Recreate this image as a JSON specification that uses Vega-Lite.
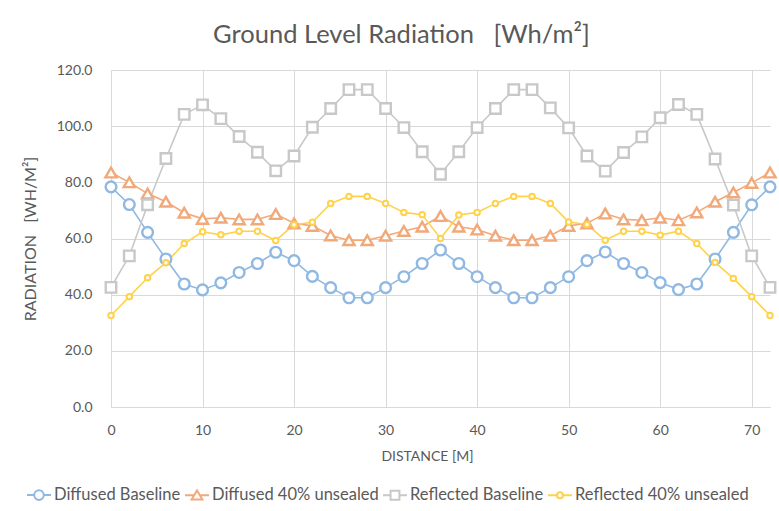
{
  "$schema": "https://vega.github.io/schema/vega-lite/v6.json",
  "autosize": {"type": "none"},
  "padding": {"left": 111, "top": 70, "right": 9, "bottom": 104},
  "width": 659,
  "height": 337,
  "background": "white",
  "config": {
    "font": "Lato",
    "view": {"stroke": null},
    "axis": {"labelFont": "Lato", "titleFont": "Lato", "labelColor": "#595959", "titleColor": "#595959", "titleFontWeight": "normal", "gridColor": "#d9d9d9", "domainColor": "#d9d9d9", "ticks": false}
  },
  "title": {"text": "Ground Level Radiation\u00a0\u00a0\u00a0[Wh/m²]", "font": "Lato", "fontSize": 25.5, "fontWeight": "normal", "color": "#595959", "anchor": "middle", "dx": -39, "offset": 15},
  "data": {"values": [
    {"d":0,"s":"Diffused Baseline","r":78.4},{"d":2,"s":"Diffused Baseline","r":72.1},{"d":4,"s":"Diffused Baseline","r":62.2},{"d":6,"s":"Diffused Baseline","r":52.7},{"d":8,"s":"Diffused Baseline","r":43.8},{"d":10,"s":"Diffused Baseline","r":41.7},{"d":12,"s":"Diffused Baseline","r":44.2},{"d":14,"s":"Diffused Baseline","r":47.9},{"d":16,"s":"Diffused Baseline","r":51.1},{"d":18,"s":"Diffused Baseline","r":55.1},{"d":20,"s":"Diffused Baseline","r":52.1},{"d":22,"s":"Diffused Baseline","r":46.5},{"d":24,"s":"Diffused Baseline","r":42.5},{"d":26,"s":"Diffused Baseline","r":38.9},{"d":28,"s":"Diffused Baseline","r":38.9},{"d":30,"s":"Diffused Baseline","r":42.5},{"d":32,"s":"Diffused Baseline","r":46.4},{"d":34,"s":"Diffused Baseline","r":51.1},{"d":36,"s":"Diffused Baseline","r":55.9},{"d":38,"s":"Diffused Baseline","r":51.1},{"d":40,"s":"Diffused Baseline","r":46.4},{"d":42,"s":"Diffused Baseline","r":42.5},{"d":44,"s":"Diffused Baseline","r":38.9},{"d":46,"s":"Diffused Baseline","r":38.9},{"d":48,"s":"Diffused Baseline","r":42.5},{"d":50,"s":"Diffused Baseline","r":46.4},{"d":52,"s":"Diffused Baseline","r":52.1},{"d":54,"s":"Diffused Baseline","r":55.2},{"d":56,"s":"Diffused Baseline","r":51.1},{"d":58,"s":"Diffused Baseline","r":47.9},{"d":60,"s":"Diffused Baseline","r":44.3},{"d":62,"s":"Diffused Baseline","r":41.8},{"d":64,"s":"Diffused Baseline","r":43.8},{"d":66,"s":"Diffused Baseline","r":52.7},{"d":68,"s":"Diffused Baseline","r":62.2},{"d":70,"s":"Diffused Baseline","r":72},{"d":72,"s":"Diffused Baseline","r":78.4},
    {"d":0,"s":"Diffused 40% unsealed","r":83.5},{"d":2,"s":"Diffused 40% unsealed","r":80},{"d":4,"s":"Diffused 40% unsealed","r":76},{"d":6,"s":"Diffused 40% unsealed","r":73.1},{"d":8,"s":"Diffused 40% unsealed","r":69.2},{"d":10,"s":"Diffused 40% unsealed","r":67},{"d":12,"s":"Diffused 40% unsealed","r":67.4},{"d":14,"s":"Diffused 40% unsealed","r":66.8},{"d":16,"s":"Diffused 40% unsealed","r":66.8},{"d":18,"s":"Diffused 40% unsealed","r":68.7},{"d":20,"s":"Diffused 40% unsealed","r":65.4},{"d":22,"s":"Diffused 40% unsealed","r":64.5},{"d":24,"s":"Diffused 40% unsealed","r":61.1},{"d":26,"s":"Diffused 40% unsealed","r":59.4},{"d":28,"s":"Diffused 40% unsealed","r":59.4},{"d":30,"s":"Diffused 40% unsealed","r":61},{"d":32,"s":"Diffused 40% unsealed","r":62.7},{"d":34,"s":"Diffused 40% unsealed","r":64.2},{"d":36,"s":"Diffused 40% unsealed","r":68},{"d":38,"s":"Diffused 40% unsealed","r":64.2},{"d":40,"s":"Diffused 40% unsealed","r":63.2},{"d":42,"s":"Diffused 40% unsealed","r":61},{"d":44,"s":"Diffused 40% unsealed","r":59.4},{"d":46,"s":"Diffused 40% unsealed","r":59.4},{"d":48,"s":"Diffused 40% unsealed","r":61},{"d":50,"s":"Diffused 40% unsealed","r":64.5},{"d":52,"s":"Diffused 40% unsealed","r":65.4},{"d":54,"s":"Diffused 40% unsealed","r":68.9},{"d":56,"s":"Diffused 40% unsealed","r":66.8},{"d":58,"s":"Diffused 40% unsealed","r":66.5},{"d":60,"s":"Diffused 40% unsealed","r":67.4},{"d":62,"s":"Diffused 40% unsealed","r":66.5},{"d":64,"s":"Diffused 40% unsealed","r":69.3},{"d":66,"s":"Diffused 40% unsealed","r":73.1},{"d":68,"s":"Diffused 40% unsealed","r":76.4},{"d":70,"s":"Diffused 40% unsealed","r":79.8},{"d":72,"s":"Diffused 40% unsealed","r":83.5},
    {"d":0,"s":"Reflected Baseline","r":42.6},{"d":2,"s":"Reflected Baseline","r":53.8},{"d":4,"s":"Reflected Baseline","r":72},{"d":6,"s":"Reflected Baseline","r":88.5},{"d":8,"s":"Reflected Baseline","r":104.2},{"d":10,"s":"Reflected Baseline","r":107.6},{"d":12,"s":"Reflected Baseline","r":102.7},{"d":14,"s":"Reflected Baseline","r":96.3},{"d":16,"s":"Reflected Baseline","r":90.7},{"d":18,"s":"Reflected Baseline","r":84.1},{"d":20,"s":"Reflected Baseline","r":89.4},{"d":22,"s":"Reflected Baseline","r":99.6},{"d":24,"s":"Reflected Baseline","r":106.3},{"d":26,"s":"Reflected Baseline","r":113},{"d":28,"s":"Reflected Baseline","r":113},{"d":30,"s":"Reflected Baseline","r":106.3},{"d":32,"s":"Reflected Baseline","r":99.5},{"d":34,"s":"Reflected Baseline","r":90.9},{"d":36,"s":"Reflected Baseline","r":82.9},{"d":38,"s":"Reflected Baseline","r":90.9},{"d":40,"s":"Reflected Baseline","r":99.5},{"d":42,"s":"Reflected Baseline","r":106.3},{"d":44,"s":"Reflected Baseline","r":113},{"d":46,"s":"Reflected Baseline","r":113},{"d":48,"s":"Reflected Baseline","r":106.5},{"d":50,"s":"Reflected Baseline","r":99.4},{"d":52,"s":"Reflected Baseline","r":89.4},{"d":54,"s":"Reflected Baseline","r":84},{"d":56,"s":"Reflected Baseline","r":90.6},{"d":58,"s":"Reflected Baseline","r":96.2},{"d":60,"s":"Reflected Baseline","r":103},{"d":62,"s":"Reflected Baseline","r":107.7},{"d":64,"s":"Reflected Baseline","r":104.2},{"d":66,"s":"Reflected Baseline","r":88.3},{"d":68,"s":"Reflected Baseline","r":71.9},{"d":70,"s":"Reflected Baseline","r":53.8},{"d":72,"s":"Reflected Baseline","r":42.6},
    {"d":0,"s":"Reflected 40% unsealed","r":32.6},{"d":2,"s":"Reflected 40% unsealed","r":39.3},{"d":4,"s":"Reflected 40% unsealed","r":46},{"d":6,"s":"Reflected 40% unsealed","r":51.4},{"d":8,"s":"Reflected 40% unsealed","r":58.2},{"d":10,"s":"Reflected 40% unsealed","r":62.4},{"d":12,"s":"Reflected 40% unsealed","r":61.3},{"d":14,"s":"Reflected 40% unsealed","r":62.6},{"d":16,"s":"Reflected 40% unsealed","r":62.6},{"d":18,"s":"Reflected 40% unsealed","r":59.3},{"d":20,"s":"Reflected 40% unsealed","r":64.9},{"d":22,"s":"Reflected 40% unsealed","r":65.8},{"d":24,"s":"Reflected 40% unsealed","r":72.5},{"d":26,"s":"Reflected 40% unsealed","r":75},{"d":28,"s":"Reflected 40% unsealed","r":75},{"d":30,"s":"Reflected 40% unsealed","r":72.5},{"d":32,"s":"Reflected 40% unsealed","r":69.3},{"d":34,"s":"Reflected 40% unsealed","r":68.5},{"d":36,"s":"Reflected 40% unsealed","r":60},{"d":38,"s":"Reflected 40% unsealed","r":68.4},{"d":40,"s":"Reflected 40% unsealed","r":69.3},{"d":42,"s":"Reflected 40% unsealed","r":72.5},{"d":44,"s":"Reflected 40% unsealed","r":75},{"d":46,"s":"Reflected 40% unsealed","r":75},{"d":48,"s":"Reflected 40% unsealed","r":72.5},{"d":50,"s":"Reflected 40% unsealed","r":65.9},{"d":52,"s":"Reflected 40% unsealed","r":65},{"d":54,"s":"Reflected 40% unsealed","r":59.4},{"d":56,"s":"Reflected 40% unsealed","r":62.6},{"d":58,"s":"Reflected 40% unsealed","r":62.6},{"d":60,"s":"Reflected 40% unsealed","r":61.2},{"d":62,"s":"Reflected 40% unsealed","r":62.6},{"d":64,"s":"Reflected 40% unsealed","r":58.2},{"d":66,"s":"Reflected 40% unsealed","r":51.5},{"d":68,"s":"Reflected 40% unsealed","r":45.8},{"d":70,"s":"Reflected 40% unsealed","r":39.3},{"d":72,"s":"Reflected 40% unsealed","r":32.6}
  ]},
  "encoding": {
    "x": {"field": "d", "type": "quantitative", "scale": {"domain": [0, 72], "nice": false}, "axis": {"title": "DISTANCE [M]", "values": [0,10,20,30,40,50,60,70], "labelFontSize": 14, "labelPadding": 16, "labelFlush": false, "titleFontSize": 14, "titlePadding": 12, "titleX": 316, "grid": true, "domain": true}},
    "y": {"field": "r", "type": "quantitative", "scale": {"domain": [0, 120], "nice": false}, "axis": {"title": "RADIATION\u00a0\u00a0\u00a0[WH/M²]", "values": [0,20,40,60,80,100,120], "format": ".1f", "labelFontSize": 14, "labelPadding": 19, "titleFontSize": 16, "titlePadding": 18, "grid": true, "domain": false}}
  },
  "layer": [
    {"mark": {"type": "line", "strokeWidth": 1.6},
     "encoding": {
       "color": {"field": "s", "type": "nominal", "scale": {"domain": ["Diffused Baseline", "Diffused 40% unsealed", "Reflected Baseline", "Reflected 40% unsealed"], "range": ["#8fb9e3", "#f2a97a", "#c8c8c8", "#ffd24a"]},
        "legend": {"title": null, "orient": "none", "legendX": -85, "legendY": 412, "direction": "horizontal", "columns": 4, "columnPadding": 0, "labelFont": "Lato", "labelFontSize": 16.5, "labelLimit": 400, "labelColor": "#595959", "labelOffset": 2, "symbolSize": 576, "symbolStrokeWidth": 2,
          "encode": {"symbols": {"update": {
            "shape": {"signal": "datum.value === 'Diffused Baseline' ? 'M-1,0L-0.4,0M0.4,0L1,0M-0.4,0A0.4,0.4,0,1,1,0.4,0A0.4,0.4,0,1,1,-0.4,0Z' : datum.value === 'Diffused 40% unsealed' ? 'M-1,0L-0.22,0M0.22,0L1,0M0,-0.4L0.45,0.36L-0.45,0.36Z' : datum.value === 'Reflected Baseline' ? 'M-1,0L-0.37,0M0.37,0L1,0M-0.37,-0.37L0.37,-0.37L0.37,0.37L-0.37,0.37Z' : 'M-1,0L-0.25,0M0.25,0L1,0M-0.25,0A0.25,0.25,0,1,1,0.25,0A0.25,0.25,0,1,1,-0.25,0Z'"},
            "fill": {"value": "white"},
            "stroke": {"scale": "color", "field": "value"},
            "strokeWidth": {"value": 2},
            "opacity": {"value": 1}
          }}}}
       }
     }},
    {"transform": [{"filter": {"field": "s", "equal": "Diffused Baseline"}}],
     "mark": {"type": "point", "shape": "circle", "size": 115, "filled": false, "fill": "white", "stroke": "#8fb9e3", "strokeWidth": 2.4, "opacity": 1}},
    {"transform": [{"filter": {"field": "s", "equal": "Diffused 40% unsealed"}}],
     "mark": {"type": "point", "shape": "triangle-up", "size": 125, "filled": false, "fill": "white", "stroke": "#f2a97a", "strokeWidth": 2.4, "opacity": 1}},
    {"transform": [{"filter": {"field": "s", "equal": "Reflected Baseline"}}],
     "mark": {"type": "point", "shape": "square", "size": 110, "filled": false, "fill": "white", "stroke": "#c8c8c8", "strokeWidth": 2.4, "opacity": 1}},
    {"transform": [{"filter": {"field": "s", "equal": "Reflected 40% unsealed"}}],
     "mark": {"type": "point", "shape": "circle", "size": 30, "filled": false, "fill": "white", "stroke": "#ffd24a", "strokeWidth": 2, "opacity": 1}}
  ]
}
